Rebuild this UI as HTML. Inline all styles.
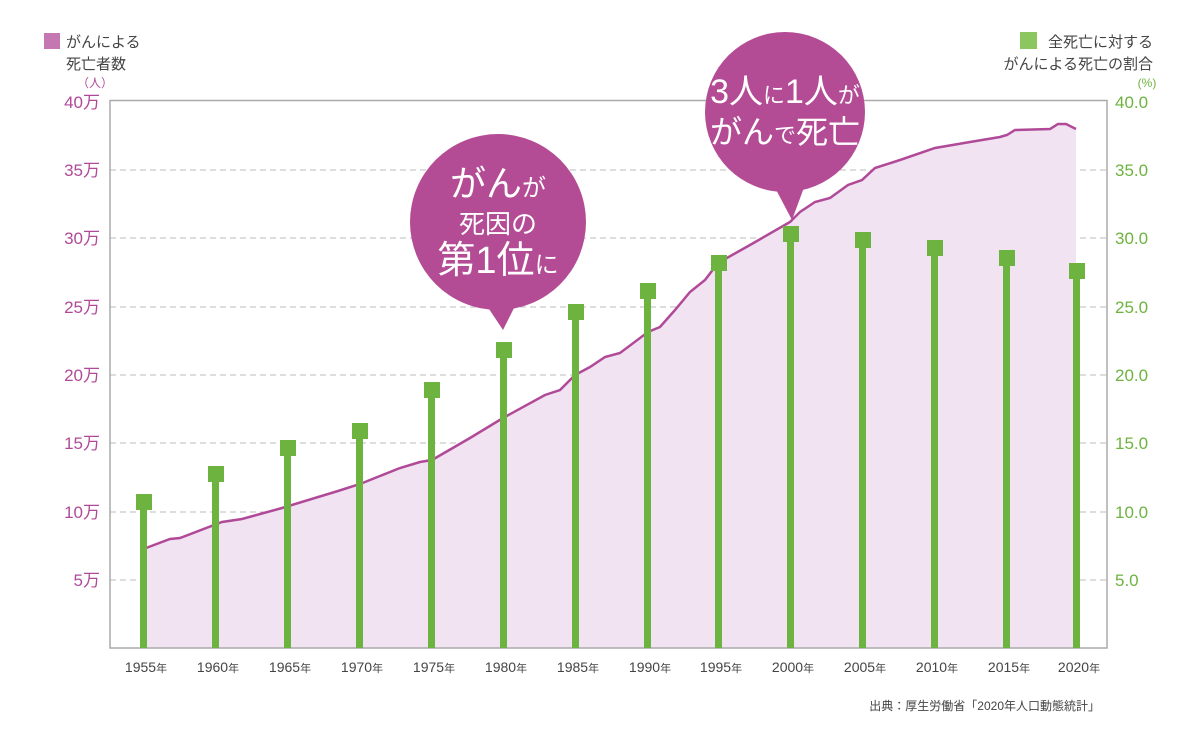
<!DOCTYPE html>
<html><head><meta charset="utf-8"><style>
body{margin:0;background:#fff;}
svg text{font-family:"Liberation Sans","Noto Sans CJK JP",sans-serif;}
</style></head><body>
<svg width="1200" height="740" viewBox="0 0 1200 740" xmlns="http://www.w3.org/2000/svg">
<!-- grid -->
<g stroke="#bbb" stroke-dasharray="6,4" stroke-width="1">
<line x1="110" x2="1107" y1="170" y2="170"/>
<line x1="110" x2="1107" y1="238" y2="238"/>
<line x1="110" x2="1107" y1="307" y2="307"/>
<line x1="110" x2="1107" y1="375" y2="375"/>
<line x1="110" x2="1107" y1="443" y2="443"/>
<line x1="110" x2="1107" y1="512" y2="512"/>
<line x1="110" x2="1107" y1="580" y2="580"/>
</g>
<!-- area -->
<path d="M146,548 L170,539 L180,538 L222,522 L242,519 L282,508 L338,491 L360,484 L400,468 L420,462 L432,460 L470,438 L503,418 L545,395 L560,390 L575,375 L590,367 L605,357 L620,353 L648,332 L660,327 L675,310 L690,292 L705,280 L718,263 L750,245 L790,222 L800,212 L815,202 L830,198 L848,185 L862,180 L875,168 L900,160 L935,148 L970,142 L1000,137 L1007,135 L1015,130 L1050,129 L1058,124 L1066,124 L1076,129 L1076,648 L146,648 Z" fill="#f1e3f1"/>
<path d="M146,548 L170,539 L180,538 L222,522 L242,519 L282,508 L338,491 L360,484 L400,468 L420,462 L432,460 L470,438 L503,418 L545,395 L560,390 L575,375 L590,367 L605,357 L620,353 L648,332 L660,327 L675,310 L690,292 L705,280 L718,263 L750,245 L790,222 L800,212 L815,202 L830,198 L848,185 L862,180 L875,168 L900,160 L935,148 L970,142 L1000,137 L1007,135 L1015,130 L1050,129 L1058,124 L1066,124 L1076,129" fill="none" stroke="#b04a98" stroke-width="2.5"/>
<!-- axes box -->
<rect x="110" y="100.5" width="997" height="547.5" fill="none" stroke="#aaa" stroke-width="1.5"/>
<!-- bars -->
<g fill="#6db33f">
<rect x="140" y="502" width="7" height="146"/><rect x="136" y="494" width="16" height="16"/>
<rect x="212" y="474" width="7" height="174"/><rect x="208" y="466" width="16" height="16"/>
<rect x="284" y="448" width="7" height="200"/><rect x="280" y="440" width="16" height="16"/>
<rect x="356" y="431" width="7" height="217"/><rect x="352" y="423" width="16" height="16"/>
<rect x="428" y="390" width="7" height="258"/><rect x="424" y="382" width="16" height="16"/>
<rect x="500" y="350" width="7" height="298"/><rect x="496" y="342" width="16" height="16"/>
<rect x="572" y="312" width="7" height="336"/><rect x="568" y="304" width="16" height="16"/>
<rect x="644" y="291" width="7" height="357"/><rect x="640" y="283" width="16" height="16"/>
<rect x="715" y="263" width="7" height="385"/><rect x="711" y="255" width="16" height="16"/>
<rect x="787" y="234" width="7" height="414"/><rect x="783" y="226" width="16" height="16"/>
<rect x="859" y="240" width="7" height="408"/><rect x="855" y="232" width="16" height="16"/>
<rect x="931" y="248" width="7" height="400"/><rect x="927" y="240" width="16" height="16"/>
<rect x="1003" y="258" width="7" height="390"/><rect x="999" y="250" width="16" height="16"/>
<rect x="1073" y="271" width="7" height="377"/><rect x="1069" y="263" width="16" height="16"/>
</g>
<!-- left axis -->
<g fill="#b04a98" font-size="17" text-anchor="end">
<text x="100" y="108">40万</text><text x="100" y="176">35万</text><text x="100" y="244">30万</text>
<text x="100" y="313">25万</text><text x="100" y="381">20万</text><text x="100" y="449">15万</text>
<text x="100" y="518">10万</text><text x="100" y="586">5万</text>
</g>
<text x="95" y="87" fill="#b04a98" font-size="12" text-anchor="middle">（人）</text>
<g fill="#6db33f" font-size="17">
<text x="1115" y="108">40.0</text><text x="1115" y="176">35.0</text><text x="1115" y="244">30.0</text>
<text x="1115" y="313">25.0</text><text x="1115" y="381">20.0</text><text x="1115" y="449">15.0</text>
<text x="1115" y="518">10.0</text><text x="1115" y="586">5.0</text>
</g>
<text x="1147" y="87" fill="#6db33f" font-size="12" text-anchor="middle">(%)</text>
<!-- legends -->
<rect x="44" y="33" width="16" height="16" fill="#c477b0"/>
<g fill="#444" font-size="15">
<text x="66" y="47">がんによる</text><text x="66" y="69">死亡者数</text>
<text x="1153" y="47" text-anchor="end">全死亡に対する</text>
<text x="1153" y="69" text-anchor="end">がんによる死亡の割合</text>
</g>
<rect x="1020" y="32" width="17" height="17" fill="#8cc660"/>
<!-- x labels -->
<g fill="#444" font-size="14" text-anchor="middle">
<text x="146" y="672">1955<tspan font-size="11">年</tspan></text>
<text x="218" y="672">1960<tspan font-size="11">年</tspan></text>
<text x="290" y="672">1965<tspan font-size="11">年</tspan></text>
<text x="362" y="672">1970<tspan font-size="11">年</tspan></text>
<text x="434" y="672">1975<tspan font-size="11">年</tspan></text>
<text x="506" y="672">1980<tspan font-size="11">年</tspan></text>
<text x="578" y="672">1985<tspan font-size="11">年</tspan></text>
<text x="650" y="672">1990<tspan font-size="11">年</tspan></text>
<text x="721" y="672">1995<tspan font-size="11">年</tspan></text>
<text x="793" y="672">2000<tspan font-size="11">年</tspan></text>
<text x="865" y="672">2005<tspan font-size="11">年</tspan></text>
<text x="937" y="672">2010<tspan font-size="11">年</tspan></text>
<text x="1009" y="672">2015<tspan font-size="11">年</tspan></text>
<text x="1079" y="672">2020<tspan font-size="11">年</tspan></text>
</g>
<text x="1100" y="710" fill="#444" font-size="12" text-anchor="end">出典：厚生労働省「2020年人口動態統計」</text>
<!-- bubbles -->
<g fill="#b44b95">
<circle cx="498" cy="222" r="88"/>
<path d="M483,300 L503,330 L518,300 Z"/>
<circle cx="785" cy="112" r="80"/>
<path d="M772,182 L792,220 L806,182 Z"/>
</g>
<g fill="#fff" text-anchor="middle">
<text x="498" y="196" font-size="36">がん<tspan font-size="24">が</tspan></text>
<text x="498" y="233" font-size="26">死因の</text>
<text x="498" y="273" font-size="38">第1位<tspan font-size="24">に</tspan></text>
<text x="785" y="103" font-size="34">3人<tspan font-size="22">に</tspan>1人<tspan font-size="22">が</tspan></text>
<text x="785" y="143" font-size="32">がん<tspan font-size="22">で</tspan>死亡</text>
</g>
</svg>
</body></html>
